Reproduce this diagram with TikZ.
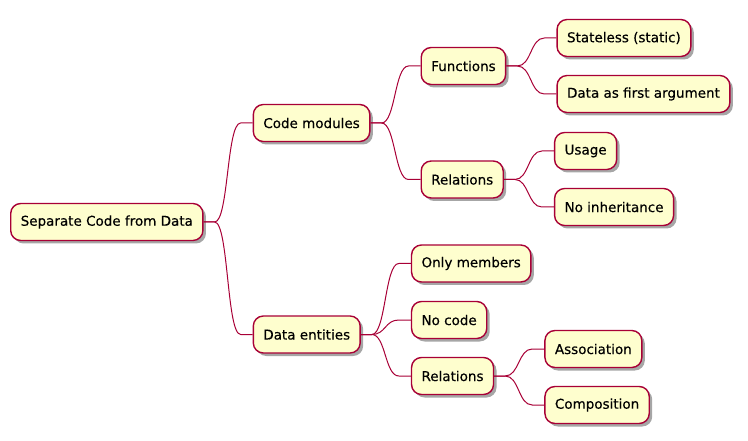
\documentclass[tikz,border=0pt]{standalone}
\usepackage{fontspec}
\setmainfont{DejaVu Sans}[FakeBold=0.35]
\usepackage{tikz}
\definecolor{topicfill}{HTML}{FEFECE}
\definecolor{topicline}{HTML}{A80036}
\usetikzlibrary{positioning, shadows}
\tikzstyle{topic} = [draw=topicline, fill=topicfill, line width=1.4pt, rounded corners=10pt, minimum height=37pt, inner xsep=10pt, font=\fontsize{13.5}{16}\selectfont, drop shadow={shadow xshift=3pt, shadow yshift=-3pt, fill=black, opacity=0.35}]
\tikzstyle{link} = [draw=topicline, line width=1pt, to path={-- ++(11pt,0) .. controls +(14pt,0) and +(-14pt,0) .. ([xshift=-12pt]\tikztotarget) -- (\tikztotarget)}]

\begin{document}
\begin{tikzpicture}[node distance=50pt]
    \useasboundingbox (0,0) rectangle (748pt,-441pt);
    % Place the topics
    \node [topic, anchor=west] (root) at (10pt,-222pt) {Separate Code from Data};
    \node [topic, right=49pt of root, yshift=99pt] (code) {Code modules};
    \node [topic, right=49pt of root, yshift=-112.5pt] (data) {Data entities};
    \node [topic, right=of code, yshift=57pt] (functions) {Functions};
    \node [topic, right=of code, yshift=-56.5pt] (coderel) {Relations};
    \node [topic, right=of functions, yshift=28pt] (stateless) {Stateless (static)};
    \node [topic, right=of functions, yshift=-28pt] (firstarg) {Data as first argument};
    \node [topic, right=of coderel, yshift=28.5pt] (usage) {Usage};
    \node [topic, right=of coderel, yshift=-27.5pt] (noinherit) {No inheritance};
    \node [topic, right=of data, yshift=71pt] (members) {Only members};
    \node [topic, right=of data, yshift=14.5pt] (nocode) {No code};
    \node [topic, right=of data, yshift=-41.5pt] (datarel) {Relations};
    \node [topic, right=of datarel, yshift=27pt] (assoc) {Association};
    \node [topic, right=of datarel, yshift=-29pt] (compos) {Composition};

    % Connect the topics
    \draw [link] (root.east) to (code.west);
    \draw [link] (root.east) to (data.west);
    \draw [link] (code.east) to (functions.west);
    \draw [link] (code.east) to (coderel.west);
    \draw [link] (functions.east) to (stateless.west);
    \draw [link] (functions.east) to (firstarg.west);
    \draw [link] (coderel.east) to (usage.west);
    \draw [link] (coderel.east) to (noinherit.west);
    \draw [link] (data.east) to (members.west);
    \draw [link] (data.east) to (nocode.west);
    \draw [link] (data.east) to (datarel.west);
    \draw [link] (datarel.east) to (assoc.west);
    \draw [link] (datarel.east) to (compos.west);
\end{tikzpicture}
\end{document}
